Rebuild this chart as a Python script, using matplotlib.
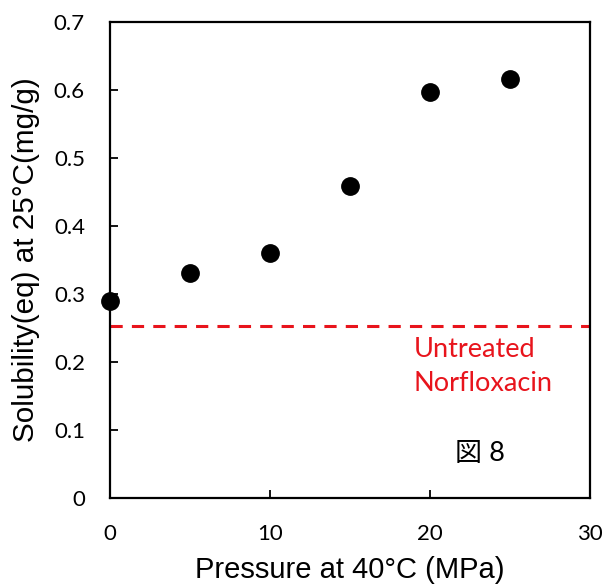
import matplotlib
matplotlib.use("Agg")
import matplotlib.pyplot as plt

pressure = [0, 5, 10, 15, 20, 25]
solubility = [0.289, 0.331, 0.361, 0.459, 0.597, 0.616]
untreated = 0.253
x_ticks = [0, 10, 20, 30]
y_ticks = [0, 0.1, 0.2, 0.3, 0.4, 0.5, 0.6, 0.7]
y_tick_labels = ["0", "0.1", "0.2", "0.3", "0.4", "0.5", "0.6", "0.7"]

plt.rcParams["font.family"] = ["Liberation Sans", "DejaVu Sans"]

fig = plt.figure(figsize=(6.06, 5.86), dpi=100)
ax = fig.add_axes([110/606, 1-498/586, 480/606, 476/586])
ax.axhline(untreated, color="#e8141c", lw=2.2, ls=(0, (4, 3)), zorder=1)
ax.plot(pressure, solubility, "o", color="black", ms=12.5, clip_on=False, zorder=3)
ax.set_xlim(0, 30)
ax.set_ylim(0, 0.7)
ax.set_xticks(x_ticks)
ax.set_yticks(y_ticks)
ax.set_yticklabels(y_tick_labels)
for s in ax.spines.values():
    s.set_linewidth(1.6)
ax.tick_params(direction="in", length=6, width=1.3)
ax.tick_params(axis="x", pad=19)
ax.tick_params(axis="y", pad=18)
for lab in ax.get_xticklabels() + ax.get_yticklabels():
    lab.set_fontfamily("Lato")
    lab.set_fontsize(16)
ax.set_xlabel("Pressure at 40°C (MPa)", fontsize=21, labelpad=8)
ax.set_ylabel("Solubility(eq) at 25°C(mg/g)", fontsize=21.3, labelpad=10)
ax.text(19.0, 0.218, "Untreated", color="#e8141c", fontsize=19.5, family="Lato", va="center", ha="left")
ax.text(19.0, 0.169, "Norfloxacin", color="#e8141c", fontsize=19.5, family="Lato", va="center", ha="left")
ax.text(23.1, 0.066, "図 8", fontsize=19.5, family=["Lato", "Noto Sans CJK JP"], va="center", ha="center")
fig.savefig("out.png", dpi=100)
